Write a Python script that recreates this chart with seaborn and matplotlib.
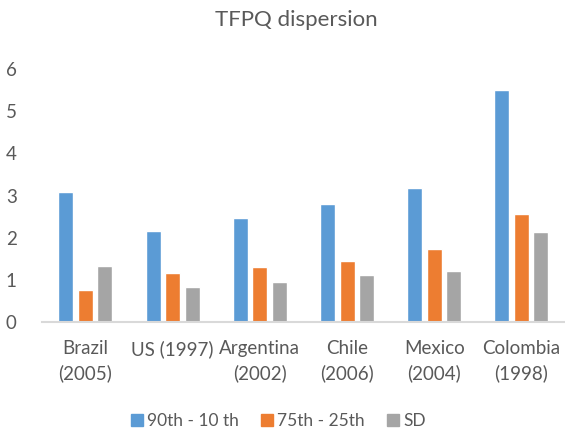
import numpy as np
import pandas as pd
import seaborn as sns
import matplotlib
matplotlib.use('Agg')
import matplotlib.pyplot as plt
from matplotlib.lines import Line2D

countries = ["Brazil\n(2005)", "US (1997)", "Argentina\n(2002)", "Chile\n(2006)",
             "Mexico\n(2004)", "Colombia\n(1998)"]
series_names = ["90th - 10 th", "75th - 25th", "SD"]
p90_10 = [3.09, 2.17, 2.46, 2.80, 3.17, 5.51]
p75_25 = [0.75, 1.16, 1.31, 1.44, 1.72, 2.57]
sd = [1.32, 0.84, 0.94, 1.12, 1.22, 2.14]

colors = ["#5B9BD5", "#ED7D31", "#A5A5A5"]
text_color = "#595959"

df = pd.DataFrame({
    "country": countries * 3,
    "measure": [series_names[0]] * 6 + [series_names[1]] * 6 + [series_names[2]] * 6,
    "value": p90_10 + p75_25 + sd,
})

sns.set_style("white")
plt.rcParams['font.family'] = ['Lato', 'DejaVu Sans']

fig = plt.figure(figsize=(5.65, 4.34), dpi=100)
ax = fig.add_axes([0.074, 0.258, 0.926, 0.583])

sns.barplot(data=df, x="country", y="value", hue="measure", palette=colors,
            width=0.67, gap=0.23, ax=ax, legend=False, saturation=1)

ax.set_ylim(0, 6)
ax.set_xlim(-0.5, 5.5)
ax.set_yticks(range(7))
ax.set_xlabel("")
ax.set_ylabel("")
for side in ["top", "right", "left"]:
    ax.spines[side].set_visible(False)
ax.spines["bottom"].set_color("#D9D9D9")
ax.spines["bottom"].set_linewidth(1.5)
ax.tick_params(axis="both", length=0, labelsize=13.5, colors=text_color)
ax.tick_params(axis="y", pad=18)
ax.tick_params(axis="x", pad=13)
for lbl in ax.get_xticklabels():
    lbl.set_linespacing(1.45)

fig.text(0.524, 0.953, "TFPQ dispersion", ha="center", va="center",
         fontsize=16, color=text_color)

handles = [Line2D([0], [0], marker="s", linestyle="", markersize=9,
                  markerfacecolor=c, markeredgecolor=c) for c in colors]
fig.legend(handles, series_names, loc="center", bbox_to_anchor=(0.49, 0.03),
           ncol=3, frameon=False, fontsize=12.5, handletextpad=0.1,
           handlelength=1.0, columnspacing=1.1, labelcolor=text_color)

fig.savefig("out.png", dpi=100)
